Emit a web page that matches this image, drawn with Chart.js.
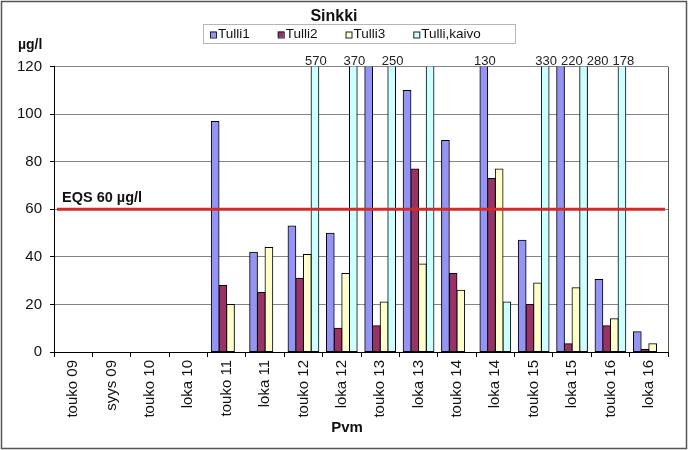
<!DOCTYPE html>
<html>
<head>
<meta charset="utf-8">
<script src="https://cdn.jsdelivr.net/npm/chart.js@4"></script>
<style>
  html, body { margin: 0; padding: 0; background: #fff; }
  #wrap { width: 688px; height: 450px; position: relative; }
</style>
</head>
<body>
<div id="wrap"><canvas id="sinkkiChart" width="688" height="450"></canvas></div>
<script>
// --- Data ---
const labels = ['touko 09', 'syys 09', 'touko 10', 'loka 10', 'touko 11', 'loka 11', 'touko 12', 'loka 12',
                'touko 13', 'loka 13', 'touko 14', 'loka 14', 'touko 15', 'loka 15', 'touko 16', 'loka 16'];
const tulli1 = [null, null, null, null, 97, 42, 53, 50, 122, 110, 89, 130, 47, 220, 30.5, 8.5];
const tulli2 = [null, null, null, null, 28, 25, 31, 10, 11, 77, 33, 73, 20, 3.5, 11, 1];
const tulli3 = [null, null, null, null, 20, 44, 41, 33, 21, 37, 26, 77, 29, 27, 14, 3.5];
const tulliKaivo = [null, null, null, null, null, null, 570, 370, 250, 124, null, 21, 330, 280, 178, null];
const yTicks = [0, 20, 40, 60, 80, 100, 120];
const eqsLimit = 60;
const labelAbove = 125; // off-scale bars above this get their value printed

const FONT = "'Liberation Sans', Arial, sans-serif";

// --- Plugins (frame, legend box, EQS line, texts) ---
const decorPlugin = {
    id: 'decor',
    beforeDraw(chart) {
        const ctx = chart.ctx;
        ctx.save();
        ctx.fillStyle = '#fff';
        ctx.fillRect(0, 0, chart.width, chart.height);
        ctx.restore();
    },
    beforeDatasetsDraw(chart) {
        // right border of the plot area
        const { ctx, chartArea: a } = chart;
        ctx.save();
        ctx.strokeStyle = '#555';
        ctx.lineWidth = 1;
        ctx.beginPath();
        ctx.moveTo(Math.round(a.right) + 0.5, a.top);
        ctx.lineTo(Math.round(a.right) + 0.5, a.bottom);
        ctx.stroke();
        ctx.restore();
    },
    afterDatasetsDraw(chart) {
        const { ctx, chartArea: a, scales } = chart;
        ctx.save();

        // EQS line
        const yEqs = scales.y.getPixelForValue(eqsLimit);
        ctx.strokeStyle = '#d42a2a';
        ctx.lineWidth = 3;
        ctx.beginPath();
        ctx.moveTo(a.left + 3, yEqs);
        ctx.lineTo(a.right - 3, yEqs);
        ctx.stroke();

        ctx.fillStyle = '#111';
        ctx.font = "bold 14.5px " + FONT;
        ctx.textAlign = 'left';
        ctx.textBaseline = 'alphabetic';
        ctx.fillText('EQS ' + eqsLimit + ' µg/l', a.left + 8, yEqs - 7);

        // values of bars that go over the top, pushed right if they would collide
        ctx.font = "13px " + FONT;
        ctx.fillStyle = '#222';
        const tags = [];
        chart.data.datasets.forEach((ds, di) => {
            const meta = chart.getDatasetMeta(di);
            ds.data.forEach((v, i) => {
                if (v != null && v > labelAbove) tags.push({ text: String(v), x: meta.data[i].x });
            });
        });
        tags.sort((p, q) => p.x - q.x);
        let lastRight = -Infinity;
        tags.forEach(t => {
            const w = ctx.measureText(t.text).width;
            const left = Math.max(t.x + 1 - w / 2, lastRight + 4);
            ctx.textAlign = 'left';
            ctx.fillText(t.text, left, a.top - 2);
            lastRight = left + w;
        });

        // unit and axis title
        ctx.font = "bold 14px " + FONT;
        ctx.textAlign = 'left';
        ctx.textBaseline = 'middle';
        ctx.fillStyle = '#111';
        ctx.fillText('µg/l', 18, 45);
        ctx.textAlign = 'center';
        ctx.font = "bold 15px " + FONT;
        ctx.fillText('Pvm', chart.width / 2 + 3, 428);

        // legend
        const lx = 203, ly = 24, lw = 312, lh = 19;
        ctx.strokeStyle = '#b5b5b5';
        ctx.lineWidth = 1;
        ctx.strokeRect(lx + 0.5, ly + 0.5, lw, lh);
        ctx.font = "13.5px " + FONT;
        ctx.textAlign = 'left';
        ctx.textBaseline = 'middle';
        let x = lx + 7;
        const cy = ly + lh / 2 + 1;
        chart.data.datasets.forEach(ds => {
            ctx.fillStyle = ds.backgroundColor;
            ctx.fillRect(x, cy - 3, 6, 6);
            ctx.strokeStyle = '#222';
            ctx.strokeRect(x + 0.5, cy - 3 + 0.5, 6, 6);
            ctx.fillStyle = '#111';
            ctx.fillText(ds.label, x + 8, cy);
            x += 8 + ctx.measureText(ds.label).width + 28;
        });

        // outer frame
        ctx.strokeStyle = '#555';
        ctx.lineWidth = 1.5;
        ctx.strokeRect(1.5, 1.5, chart.width - 3, chart.height - 3);
        ctx.restore();
    }
};

function makeSet(label, data, color) {
    return {
        label: label,
        data: data,
        backgroundColor: color,
        borderColor: '#000',
        borderWidth: 1,
        borderSkipped: false,
        inflateAmount: 0.5,
        categoryPercentage: 0.8,
        barPercentage: 1.0,
        clip: 0
    };
}

const ctx = document.getElementById('sinkkiChart');
new Chart(ctx, {
    type: 'bar',
    data: {
        labels: labels,
        datasets: [
            makeSet('Tulli1', tulli1, '#9494f5'),
            makeSet('Tulli2', tulli2, '#993366'),
            makeSet('Tulli3', tulli3, '#ffffcc'),
            makeSet('Tulli,kaivo', tulliKaivo, '#ccffff')
        ]
    },
    options: {
        responsive: false,
        animation: false,
        layout: { padding: { top: 0, left: 0, right: 20, bottom: 0 } },
        plugins: {
            legend: { display: false },
            tooltip: { enabled: false },
            title: {
                display: true,
                text: 'Sinkki',
                color: '#111',
                font: { family: FONT, size: 16, weight: 'bold' },
                padding: { top: 7, bottom: 40.5 }
            }
        },
        scales: {
            x: {
                afterFit: s => { s.height = 98; },
                grid: { drawOnChartArea: false, offset: true, tickLength: 5, tickColor: '#000' },
                border: { color: '#000' },
                ticks: {
                    autoSkip: false,
                    minRotation: 90,
                    maxRotation: 90,
                    padding: 3,
                    color: '#111',
                    font: { family: FONT, size: 15 }
                }
            },
            y: {
                min: 0,
                max: 120,
                afterFit: s => { s.width = 54; },
                afterBuildTicks: s => { s.ticks = yTicks.map(v => ({ value: v })); },
                grid: { color: '#858585', tickLength: 4, tickColor: '#000' },
                border: { color: '#000' },
                ticks: {
                    padding: 8,
                    color: '#111',
                    font: { family: FONT, size: 15 }
                }
            }
        }
    },
    plugins: [decorPlugin]
});
</script>
</body>
</html>
